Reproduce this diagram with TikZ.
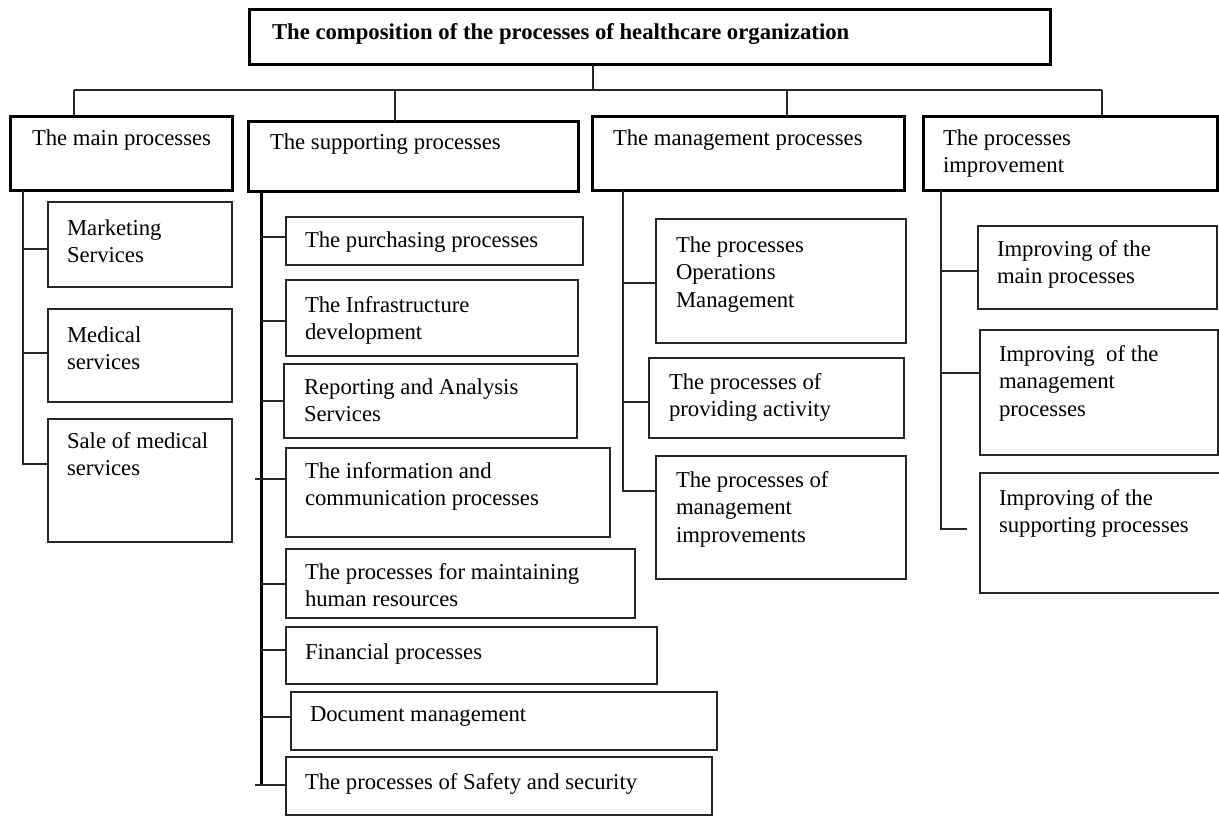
\documentclass[tikz,border=0pt]{standalone}
\usepackage{fontspec}
\setmainfont{Liberation Serif}
\newcommand{\pbox}[6]{\node[#6, anchor=north west, minimum width={(#4-#2)*1pt}, minimum height={(#5-#3)*1pt}] (#1) at (#2,#3) {};}
\newcommand{\ptext}[4]{\node[txt, anchor=north west] (#1) at (#2,{#3-19.39}) {\strut #4};}
\begin{document}
\begin{tikzpicture}[x=1pt,y=-1pt,
  big/.style={draw=black, line width=3pt, inner sep=0pt, outer sep=0pt},
  small/.style={draw=black!85, line width=1.6pt, inner sep=0pt, outer sep=0pt},
  txt/.style={inner sep=0pt, outer sep=0pt, align=left, font=\fontsize{22.7}{27.7}\selectfont},
  conn/.style={draw=black!85, line width=1.5pt},
  thicktrunk/.style={draw=black, line width=3pt}]
\useasboundingbox (0,0) rectangle (1219,816);
\fill[white] (0,0) rectangle (1219,816);
\clip (0,0) rectangle (1219,816);

% top level
\pbox{top}{249}{10}{1050}{65}{big}
\node[txt, anchor=north west, font=\fontsize{22.7}{27.7}\selectfont\bfseries] (ttitle) at (272,{40-19.39}) {\strut The composition of the processes of healthcare organization};

\pbox{main}{10}{116}{232}{190}{big}
\ptext{tmain}{32}{145}{The main processes}
\pbox{sup}{248}{121}{578}{191}{big}
\ptext{tsup}{270}{150}{The supporting processes}
\pbox{mgmt}{592}{116}{904}{190}{big}
\ptext{tmgmt}{613}{145}{The management processes}
\pbox{imp}{923}{116}{1217}{190}{big}
\ptext{timp}{943}{145}{The processes\\improvement}

% main children
\pbox{mk}{48}{202}{232}{287}{small}
\ptext{tmk}{67}{235}{Marketing\\Services}
\pbox{med}{48}{309}{232}{402}{small}
\ptext{tmed}{67}{342}{Medical\\services}
\pbox{sale}{48}{419}{232}{542}{small}
\ptext{tsale}{67}{448}{Sale of medical\\services}

% supporting children
\pbox{pur}{286}{217}{583}{265}{small}
\ptext{tpur}{305}{247}{The purchasing processes}
\pbox{inf}{286}{280}{578}{356}{small}
\ptext{tinf}{305}{312}{The Infrastructure\\development}
\pbox{rep}{284}{364}{577}{438}{small}
\ptext{trep}{304}{394}{Reporting and Analysis\\Services}
\pbox{info}{286}{448}{610}{537}{small}
\ptext{tinfo}{305}{478}{The information and\\communication processes}
\pbox{hum}{286}{549}{635}{618}{small}
\ptext{thum}{305}{579}{The processes for maintaining\\human resources}
\pbox{fin}{286}{627}{657}{684}{small}
\ptext{tfin}{305}{659}{Financial processes}
\pbox{doc}{291}{692}{717}{750}{small}
\ptext{tdoc}{310}{721}{Document management}
\pbox{saf}{286}{757}{712}{815}{small}
\ptext{tsaf}{305}{789}{The processes of Safety and security}

% management children
\pbox{ops}{656}{219}{906}{343}{small}
\ptext{tops}{676}{252}{The processes\\Operations\\Management}
\pbox{prov}{649}{358}{904}{438}{small}
\ptext{tprov}{669}{389}{The processes of\\providing activity}
\pbox{mimp}{656}{456}{906}{579}{small}
\ptext{tmimp}{676}{487}{The processes of\\management\\improvements}

% improvement children
\pbox{im1}{978}{226}{1217}{309}{small}
\ptext{tim1}{997}{256}{Improving of the\\main processes}
\pbox{im2}{980}{330}{1218}{455}{small}
\ptext{tim2}{999}{361}{Improving~ of the\\management\\processes}
\pbox{im3}{980}{473}{1224}{593}{small}
\ptext{tim3}{999}{505}{Improving of the\\supporting processes}

% bus
\coordinate (bT) at (593,90);
\coordinate (d1) at (74,90);
\coordinate (d2) at (395,90);
\coordinate (d3) at (787,90);
\coordinate (d4) at (1102,90);
\draw[conn] (top.south -| bT) -- (bT);
\draw[conn] (d1) -- (d4);
\draw[conn] (d1) -- (d1 |- main.north);
\draw[conn] (d2) -- (d2 |- sup.north);
\draw[conn] (d3) -- (d3 |- mgmt.north);
\draw[conn] (d4) -- (d4 |- imp.north);

% trunks
\coordinate (t1) at (23,0);
\coordinate (t2) at (261,0);
\coordinate (t3) at (623,0);
\coordinate (t4) at (941,0);

% main tree
\draw[conn] (main.south -| t1) |- ([yshift=16.5pt]sale.west);
\draw[conn] ([yshift=-4.5pt]mk.west) -- ([yshift=-4.5pt]mk.west -| t1);
\draw[conn] ([yshift=2.5pt]med.west) -- ([yshift=2.5pt]med.west -| t1);

% supporting tree
\draw[thicktrunk] (sup.south -| t2) -- ([yshift=1pt]saf.west -| t2);
\draw[conn] ([yshift=4pt]pur.west) -- ([yshift=4pt]pur.west -| t2);
\draw[conn] ([yshift=-3pt]inf.west) -- ([yshift=-3pt]inf.west -| t2);
\draw[conn] (rep.west) -- (rep.west -| t2);
\draw[conn] ([yshift=13.5pt]info.west) -- ([yshift=13.5pt,xshift=-6pt]info.west -| t2);
\draw[conn] ([yshift=-0.5pt]hum.west) -- ([yshift=-0.5pt]hum.west -| t2);
\draw[conn] ([yshift=5.5pt]fin.west) -- ([yshift=5.5pt]fin.west -| t2);
\draw[conn] ([yshift=4pt]doc.west) -- ([yshift=4pt]doc.west -| t2);
\draw[conn] ([yshift=1pt]saf.west) -- ([yshift=1pt,xshift=-6pt]saf.west -| t2);

% management tree
\draw[conn] (mgmt.south -| t3) |- ([yshift=26.5pt]mimp.west);
\draw[conn] ([yshift=-2pt]ops.west) -- ([yshift=-2pt]ops.west -| t3);
\draw[conn] ([yshift=-4pt]prov.west) -- ([yshift=-4pt]prov.west -| t3);

% improvement tree
\coordinate (im3end) at (967,529);
\draw[conn] (imp.south -| t4) |- (im3end);
\draw[conn] ([yshift=-3.5pt]im1.west) -- ([yshift=-3.5pt]im1.west -| t4);
\draw[conn] ([yshift=19.5pt]im2.west) -- ([yshift=19.5pt]im2.west -| t4);
\end{tikzpicture}
\end{document}
